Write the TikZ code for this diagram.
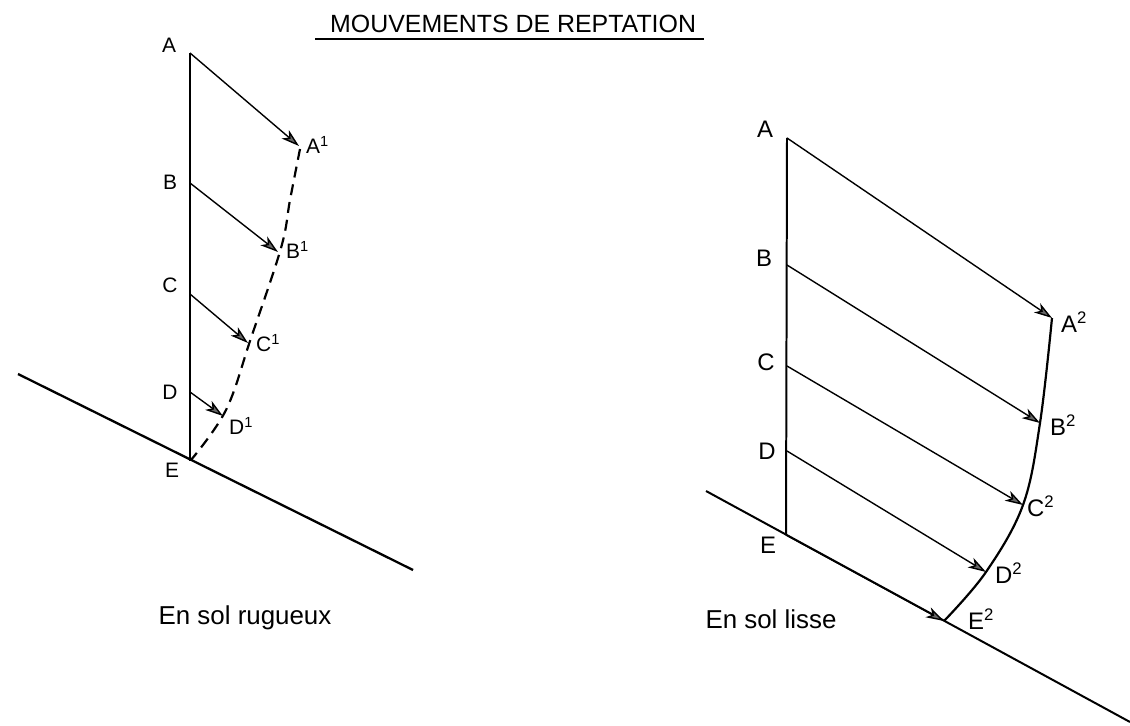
\documentclass[tikz,border=0pt]{standalone}
\usepackage{fontspec}
\setmainfont{Liberation Sans}
\usetikzlibrary{arrows.meta}
\begin{document}
\begin{tikzpicture}[x=1bp,y=-1bp,
  lbl/.style={inner sep=0pt,font=\fontsize{21}{23}\selectfont},
  rlbl/.style={inner sep=0pt,font=\fontsize{24}{26}\selectfont},
  capt/.style={inner sep=0pt,font=\fontsize{26}{28}\selectfont},
  post/.style={line width=2pt},
  ground/.style={line width=2.3pt},
  mv/.style={line width=1.4pt,-{Stealth[length=18bp,width=11bp,inset=5bp,fill=black!60]}},
  trace/.style={line width=2.2pt,dash pattern=on 11bp off 7bp}]
\useasboundingbox (0,0) rectangle (1130,726);
% title
\node[inner sep=0pt,anchor=base west,font=\fontsize{25}{27}\selectfont] (title) at (330,33) {MOUVEMENTS DE REPTATION};
\coordinate (u1) at (315,39);
\coordinate (u2) at ([xshift=8bp]title.east |- u1);
\draw[line width=1.8pt] (u1) -- (u2);
% ---------------- left diagram ----------------
\coordinate (lA) at (190,53);
\coordinate (lB) at (190,183);
\coordinate (lC) at (190,294);
\coordinate (lD) at (190,392);
\coordinate (lE) at (190,461);
\coordinate (lA1) at (299,146);
\coordinate (lB1) at (278,252);
\coordinate (lC1) at (248,343);
\coordinate (lD1) at (223,416);
\coordinate (lg1) at (18,374);
\coordinate (lg2) at (413,570);
\draw[ground] (lg1) -- (lg2);
\draw[post] (lA) -- (lE);
\draw[mv] (lA) -- (lA1);
\draw[mv] (lB) -- (lB1);
\draw[mv] (lC) -- (lC1);
\draw[mv] (lD) -- (lD1);
\draw[trace] plot[smooth,tension=0.6] coordinates {(300,149) (290,200) (281,248) (251,338) (226,410) (191,460)};
\node[lbl] (tlA) at (169,45) {A};
\node[lbl] (tlB) at (170,182) {B};
\node[lbl] (tlC) at (170,285) {C};
\node[lbl] (tlD) at (170,392) {D};
\node[lbl] (tlE) at (172,470) {E};
\node[lbl,anchor=west] (tlA1) at (306,145) {A\textsuperscript{1}};
\node[lbl,anchor=west] (tlB1) at (286,250) {B\textsuperscript{1}};
\node[lbl,anchor=west] (tlC1) at (256,343) {C\textsuperscript{1}};
\node[lbl,anchor=west] (tlD1) at (229,426) {D\textsuperscript{1}};
\node[capt] (cap1) at (245,618) {En sol rugueux};
% ---------------- right diagram ----------------
\coordinate (rA) at (787,138);
\coordinate (rB) at (787,265);
\coordinate (rC) at (787,366);
\coordinate (rD) at (787,451);
\coordinate (rE) at (786,535);
\coordinate (rA2) at (1052,318);
\coordinate (rB2) at (1040,423);
\coordinate (rC2) at (1023,505);
\coordinate (rD2) at (986,572);
\coordinate (rE2) at (944,621);
\coordinate (rg1) at (706,491);
\coordinate (rg2) at (1130,722);
\draw[line width=2pt] (rg1) -- (rg2);
\draw[post] (rA) -- (rE);
\draw[mv] (rA) -- (rA2);
\draw[mv] (rB) -- (rB2);
\draw[mv] (rC) -- (rC2);
\draw[mv] (rD) -- (rD2);
\draw[mv] (rE) -- (rE2);
\draw[line width=2.2pt] plot[smooth,tension=0.6] coordinates {(1052,318) (1040,423) (1023,505) (986,572) (944,621)};
\node[rlbl] (trA) at (765,129) {A};
\node[rlbl] (trB) at (764,258) {B};
\node[rlbl] (trC) at (766,362) {C};
\node[rlbl] (trD) at (767,451) {D};
\node[rlbl] (trE) at (768,545) {E};
\node[rlbl,anchor=west] (trA2) at (1061,322) {A\textsuperscript{2}};
\node[rlbl,anchor=west] (trB2) at (1050,425) {B\textsuperscript{2}};
\node[rlbl,anchor=west] (trC2) at (1027,506) {C\textsuperscript{2}};
\node[rlbl,anchor=west] (trD2) at (995,573) {D\textsuperscript{2}};
\node[rlbl,anchor=west] (trE2) at (968,619) {E\textsuperscript{2}};
\node[capt] (cap2) at (771,619) {En sol lisse};
\end{tikzpicture}
\end{document}
